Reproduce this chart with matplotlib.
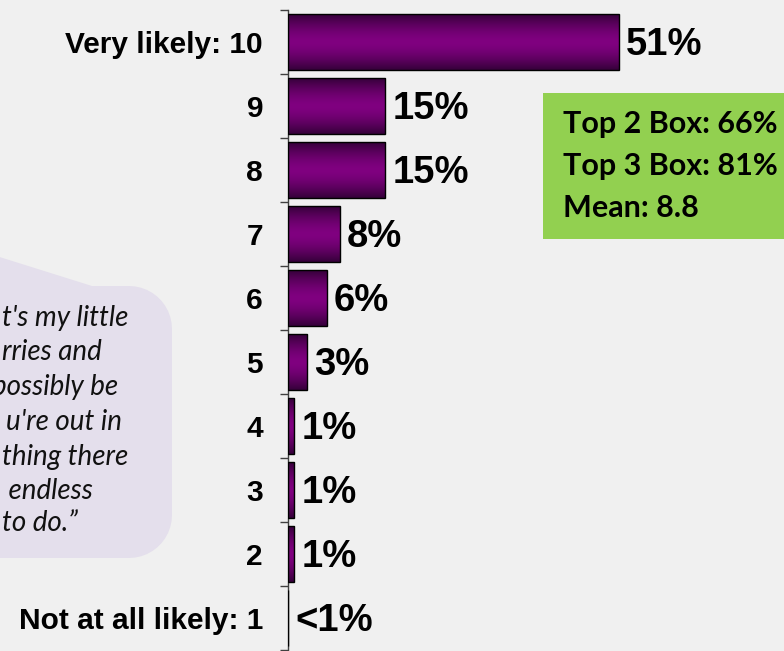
import numpy as np
import matplotlib
matplotlib.use("Agg")
import matplotlib.pyplot as plt
from matplotlib import font_manager
from matplotlib.patches import Rectangle, Polygon
from matplotlib.colors import to_rgb

# Likelihood ratings, 10 down to 1
categories = ['Very likely: 10', '9', '8', '7', '6', '5', '4', '3', '2', 'Not at all likely: 1']
percents = [51, 15, 15, 8, 6, 3, 1, 1, 1, 0]
value_labels = ['51%', '15%', '15%', '8%', '6%', '3%', '1%', '1%', '1%', '<1%']

summary_lines = ['Top 2 Box: 66%', 'Top 3 Box: 81%', 'Mean: 8.8']

# visible part of the quote bubble (the rest runs off the left edge)
quote_lines = ["t's my little", "rries and", "possibly be", "u're out in",
               "thing there", " endless", "to do.\u201d"]

W, H = 784, 651
BG = '#f0f0f0'


def fx(px):
    return px / W


def fy(py):
    return 1 - py / H


# narrow bold face for the value labels if we have one
installed = {f.name for f in font_manager.fontManager.ttflist}
if 'Liberation Sans Narrow' in installed:
    value_font, value_size = 'Liberation Sans Narrow', 31
else:
    value_font, value_size = 'Liberation Sans', 27.5

fig = plt.figure(figsize=(W / 100, H / 100), dpi=100, facecolor=BG)

# quote bubble with pointer, drawn in figure coords
r = 43
pts = [(-10, 254), (92, 286), (172 - r, 286)]
for a in np.linspace(90, 0, 12):
    pts.append((172 - r + r * np.cos(np.radians(a)), 286 + r - r * np.sin(np.radians(a))))
for a in np.linspace(0, -90, 12):
    pts.append((172 - r + r * np.cos(np.radians(a)), 558 - r - r * np.sin(np.radians(a))))
pts.append((-10, 558))
bubble = Polygon([(fx(x), fy(y)) for x, y in pts], closed=True, transform=fig.transFigure,
                 facecolor='#e4dfec', edgecolor='none', zorder=0)
fig.patches.append(bubble)

quote_right = [128, 102, 118, 122, 128, 93, 78]
quote_y = [318, 352, 387, 422, 457, 491, 523]
for line, xr, yc in zip(quote_lines, quote_right, quote_y):
    fig.text(fx(xr), fy(yc), line, ha='right', va='center', fontsize=20,
             family='Lato', style='italic', color='#111111')

# summary box
fig.patches.append(Rectangle((fx(543), fy(239)), fx(260), fy(93) - fy(239),
                             transform=fig.transFigure, facecolor='#92d050',
                             edgecolor='none', zorder=0))
for i, line in enumerate(summary_lines):
    fig.text(fx(563), fy(124 + i * 42), line, ha='left', va='center', fontsize=22,
             family='Lato', weight='bold', color='black')

ax = fig.add_axes([fx(288), 1 / H, fx(496), 640 / H])
ax.set_facecolor('none')

y = np.arange(len(categories))
bars = ax.barh(y, percents, height=0.86, facecolor='none', edgecolor='black', linewidth=1, zorder=3)

# vertical purple gradient inside each bar
t = np.abs(np.linspace(-1, 1, 64)) ** 1.6
c_mid = np.array(to_rgb('#800080'))
c_edge = np.array(to_rgb('#36003a'))
grad = (c_mid[None, :] * (1 - t[:, None]) + c_edge[None, :] * t[:, None])[:, None, :]
for bar, val in zip(bars, percents):
    if val <= 0:
        continue
    im = ax.imshow(grad, extent=(0, val, bar.get_y() + bar.get_height(), bar.get_y()),
                   aspect='auto', zorder=2, interpolation='bilinear')
    im.set_clip_path(bar)

for yi, val, lab in zip(y, percents, value_labels):
    ax.annotate(lab, (val, yi), xytext=(5, -2.5), textcoords='offset points',
                ha='left', va='center', fontsize=value_size, weight='bold',
                family=value_font)

ax.set_xlim(0, 496 / 6.49)
ax.set_ylim(len(categories) - 0.5, -0.5)

ax.set_yticks(y)
ax.set_yticklabels(categories, fontsize=21.5, weight='bold', family='Liberation Sans')
ax.set_yticks(np.arange(len(categories) + 1) - 0.5, minor=True)
ax.tick_params(axis='y', which='major', length=0, pad=18)
ax.tick_params(axis='y', which='minor', length=6, width=1, color='#404040', direction='out')
ax.tick_params(axis='x', bottom=False, labelbottom=False)

for side in ['top', 'right', 'bottom']:
    ax.spines[side].set_visible(False)
ax.spines['left'].set_color('#404040')
ax.spines['left'].set_linewidth(1)

fig.savefig('out.png', dpi=100, facecolor=BG)
